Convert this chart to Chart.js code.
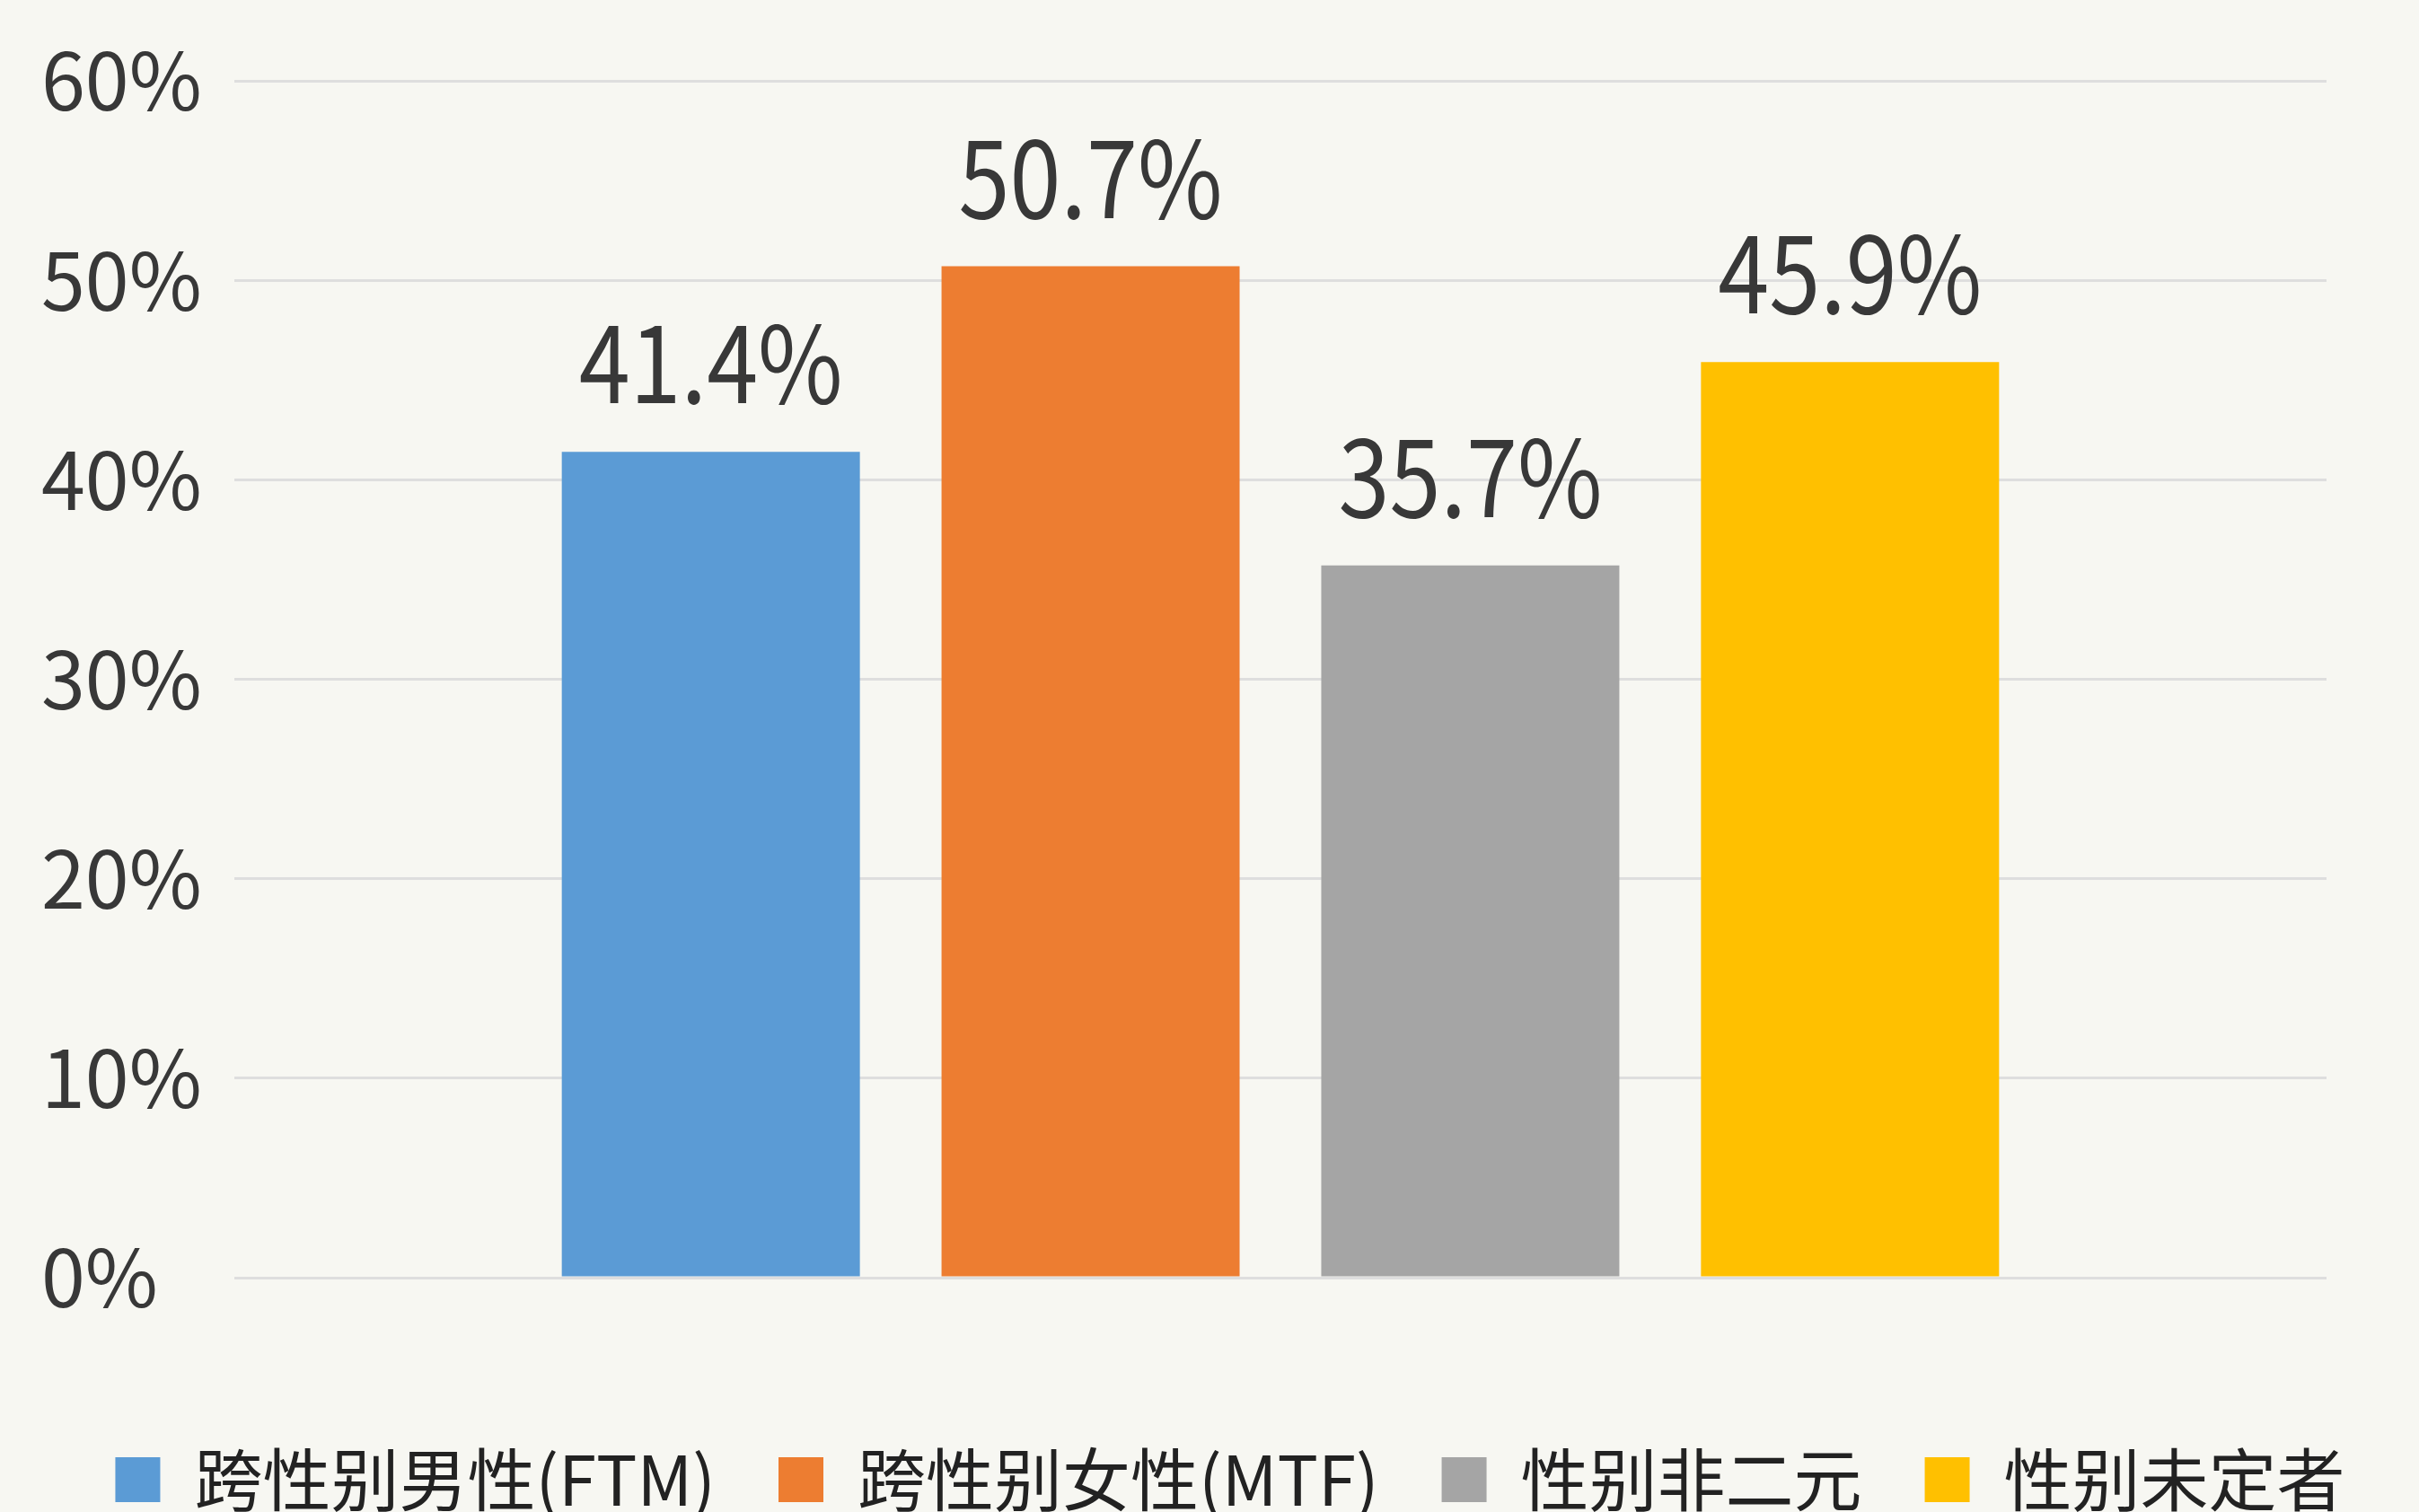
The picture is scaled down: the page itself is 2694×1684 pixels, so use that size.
<!DOCTYPE html>
<html lang="zh">
<head>
    <meta charset="UTF-8">
    <title>性别认同分布</title>
    <script src="https://cdn.jsdelivr.net/npm/chart.js"></script>
    <style>
        html, body {
            margin: 0;
            padding: 0;
            background-color: #f7f7f2;
            overflow: hidden;
        }
        #grafico {
            display: block;
        }
    </style>
</head>
<body>

<canvas id="grafico" width="2694" height="1696"></canvas>

<script>
    // Datos
    const categorias = ['跨性别男性(FTM)', '跨性别女性(MTF)', '性别非二元', '性别未定者'];
    const valores = [41.4, 50.7, 35.7, 45.9];
    const colores = ['#5b9bd5', '#ed7d31', '#a5a5a5', '#ffc000'];
    const ticksY = [0, 10, 20, 30, 40, 50, 60];

    const fuente = '"Noto Sans CJK SC", "Noto Sans", sans-serif';

    // Etiquetas encima de cada barra (un poco estrechas, como en el original)
    const etiquetas = {
        id: 'etiquetas',
        afterDatasetsDraw(chart) {
            const ctx = chart.ctx;
            const escala = 0.87;
            ctx.save();
            ctx.font = '118px ' + fuente;
            ctx.fillStyle = '#383838';
            ctx.textAlign = 'center';
            ctx.textBaseline = 'alphabetic';
            chart.data.datasets.forEach((ds, i) => {
                const bar = chart.getDatasetMeta(i).data[0];
                ctx.save();
                ctx.translate(bar.x, bar.y - 54);
                ctx.scale(escala, 1);
                ctx.fillText(ds.data[0].toFixed(1) + '%', 0, 0);
                ctx.restore();
            });
            ctx.restore();
        }
    };

    const datasets = categorias.map((nombre, i) => ({
        label: nombre,
        data: [valores[i]],
        backgroundColor: colores[i],
        borderWidth: 0,
        categoryPercentage: 0.726,
        barPercentage: 0.785
    }));

    new Chart(document.getElementById('grafico'), {
        type: 'bar',
        data: {
            labels: [''],
            datasets: datasets
        },
        options: {
            responsive: false,
            animation: false,
            devicePixelRatio: 1,
            layout: {
                padding: { top: 90, left: 46, right: 0, bottom: 0 }
            },
            plugins: {
                tooltip: { enabled: false },
                legend: {
                    position: 'bottom',
                    labels: {
                        boxWidth: 50,
                        boxHeight: 50,
                        padding: 70,
                        color: '#222222',
                        font: { family: fuente, size: 76 }
                    }
                }
            },
            scales: {
                x: {
                    display: true,
                    grid: { display: false },
                    border: { display: false },
                    ticks: { display: false },
                    afterFit(scale) {
                        scale.height = 117;
                    }
                },
                y: {
                    min: ticksY[0],
                    max: ticksY[ticksY.length - 1],
                    afterBuildTicks(scale) {
                        scale.ticks = ticksY.map(v => ({ value: v }));
                    },
                    afterFit(scale) {
                        scale.width = 215;
                    },
                    border: { display: false },
                    grid: {
                        color: '#dedede',
                        lineWidth: 3,
                        drawTicks: false
                    },
                    ticks: {
                        crossAlign: 'far',
                        color: '#383838',
                        font: { family: fuente, size: 88 },
                        callback: v => v + '%'
                    }
                },
                derecha: {
                    position: 'right',
                    display: true,
                    grid: { display: false },
                    border: { display: false },
                    ticks: { display: false },
                    afterFit(scale) {
                        scale.width = 103;
                    }
                }
            }
        },
        plugins: [etiquetas]
    });
</script>

</body>
</html>
